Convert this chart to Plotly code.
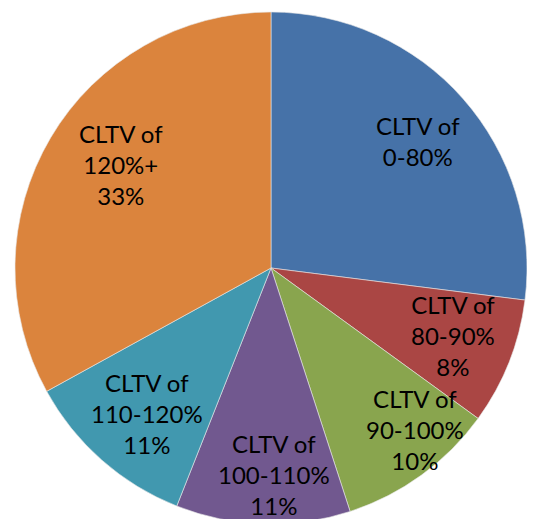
import math
import plotly.graph_objects as go

# Share of loans by combined loan-to-value band (percent)
categories = ['0-80%', '80-90%', '90-100%', '100-110%', '110-120%', '120%+']
shares = [27, 8, 10, 11, 11, 33]
pct_text = ['', '8%', '10%', '11%', '11%', '33%']  # the 0-80% label shows no percent

COLORS = ['#4672A8', '#AA4644', '#89A54E', '#71588F', '#4198AF', '#DB843D']

W, H = 535, 519
CX, CY, R = 263, 260, 256   # pie centre / radius in figure pixels (page adds 8px body margin)
LABEL_R = 0.75              # labels sit at 3/4 of the radius
# small pixel nudges so labels land where the "best fit" placement put them
LABEL_NUDGE = [(3, 0), (3, -3), (31, 6), (9, 15), (3, 1), (15, -6)]
FONT = 'Lato, Calibri, sans-serif'

fig = go.Figure()

fig.add_trace(go.Pie(
    labels=categories,
    values=shares,
    sort=False,
    direction='clockwise',
    rotation=0,
    textinfo='none',
    hoverinfo='label+percent',
    marker=dict(colors=COLORS, line=dict(color='#e8e8e8', width=0.6)),
    domain=dict(x=[(CX - R) / W, (CX + R) / W], y=[1 - (CY + R) / H, 1 - (CY - R) / H]),
    showlegend=False,
))

# label each slice at the middle angle of its wedge
total = sum(shares)
cum = 0
for cat, val, pct, (dx, dy) in zip(categories, shares, pct_text, LABEL_NUDGE):
    mid = (cum + val / 2) / total * 2 * math.pi
    cum += val
    px_ = CX + LABEL_R * R * math.sin(mid) + dx
    py_ = CY - LABEL_R * R * math.cos(mid) + dy
    text = 'CLTV of<br>' + cat + ('<br>' + pct if pct else '')
    fig.add_annotation(
        x=px_ / W, y=1 - py_ / H, xref='paper', yref='paper',
        text=text, showarrow=False, xanchor='center', yanchor='middle',
        font=dict(family=FONT, size=24, color='#000000'),
    )

fig.update_layout(
    width=W, height=H,
    margin=dict(l=0, r=0, t=0, b=0),
    paper_bgcolor='white',
    plot_bgcolor='white',
)

fig.write_html('out.html')
